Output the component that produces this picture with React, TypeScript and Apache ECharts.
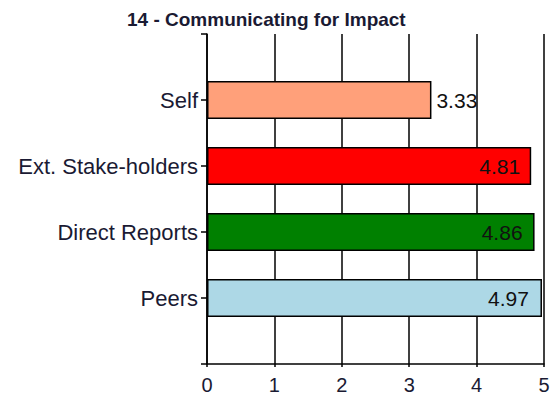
import React, { useEffect, useRef } from "react";
import * as echarts from "echarts";

const title = "14 - Communicating for Impact";
const categories = ["Self", "Ext. Stake-holders", "Direct Reports", "Peers"];
const values = [3.33, 4.81, 4.86, 4.97];
const colors = ["#FFA07A", "#FF0000", "#008000", "#ADD8E6"];
const labelPositions = ["right", "insideRight", "insideRight", "insideRight"];
const labelDistances = [5, 11, 12, 13];
const xTicks = [0, 1, 2, 3, 4, 5];

const FONT = "Arial, 'Liberation Sans', sans-serif";

export default function App() {
  const ref = useRef<HTMLDivElement>(null);
  useEffect(() => {
    if (!ref.current) return;
    const chart = echarts.init(ref.current, null, { renderer: "svg" });
    const axisCats = ["", ...categories, ""];
    const seriesData: any[] = [null];
    categories.forEach((c, i) => {
      seriesData.push({
        value: values[i],
        itemStyle: { color: colors[i], borderColor: "#000", borderWidth: 1.5 },
        label: { position: labelPositions[i], distance: labelDistances[i] },
      });
    });
    seriesData.push(null);
    chart.setOption({
      animation: false,
      title: {
        text: title,
        left: 122,
        top: 5,
        textStyle: {
          fontFamily: FONT,
          fontSize: 19,
          fontWeight: "bold",
          color: "#1a1a33",
        },
      },
      grid: { left: 207, right: 13, top: 34, bottom: 37, containLabel: false },
      xAxis: {
        type: "value",
        min: xTicks[0],
        max: xTicks[xTicks.length - 1],
        interval: 1,
        axisLine: { show: true, lineStyle: { color: "#000", width: 1.5 } },
        axisTick: { show: true, length: 3, lineStyle: { color: "#000", width: 1.5 } },
        splitLine: { show: true, lineStyle: { color: "#000", width: 1.5 } },
        axisLabel: {
          margin: 11,
          fontSize: 20,
          fontFamily: FONT,
          color: "#1a1a33",
        },
      },
      yAxis: {
        type: "category",
        inverse: true,
        boundaryGap: false,
        data: axisCats,
        axisLine: { show: true, lineStyle: { color: "#000", width: 1.5 } },
        axisTick: { show: true, length: 6, alignWithLabel: true, lineStyle: { color: "#000", width: 1.5 } },
        splitLine: { show: false },
        axisLabel: {
          margin: 9,
          fontSize: 22,
          fontFamily: FONT,
          color: "#1a1a33",
          interval: 0,
        },
      },
      series: [
        {
          type: "bar",
          data: seriesData,
          barWidth: 38,
          label: {
            show: true,
            fontSize: 21,
            fontFamily: FONT,
            color: "#111",
            formatter: (p: any) => Number(p.value).toFixed(2),
          },
        },
      ],
    });
    return () => chart.dispose();
  }, []);
  return (
    <div
      ref={ref}
      style={{ position: "fixed", left: 0, top: 0, width: 557, height: 401, background: "#fff" }}
    />
  );
}
